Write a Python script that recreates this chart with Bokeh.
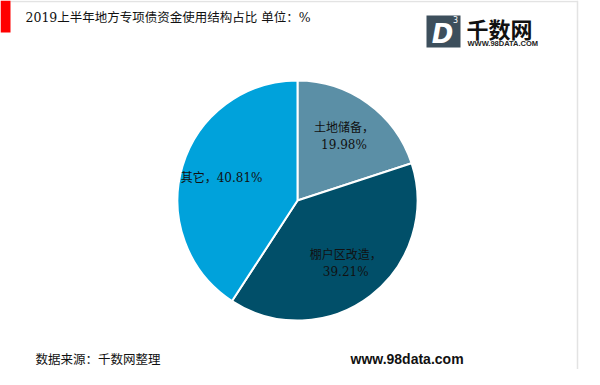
import math
import numpy as np
from bokeh.plotting import figure
from bokeh.models import Range1d, ColumnDataSource
from bokeh.core.properties import value
from bokeh.embed import file_html
from bokeh.resources import INLINE

# ---- data ----
categories = ["土地储备", "棚户区改造", "其它"]
shares = [19.98, 39.21, 40.81]
colors = ["#5b8fa6", "#014f69", "#00a2db"]
wrap_label = [True, True, False]
title_text = "2019上半年地方专项债资金使用结构占比 单位：%"
source_text = "数据来源：千数网整理"
site_text = "www.98data.com"
logo_cn = "千数网"
logo_en = "WWW.98DATA.COM"

# ---- canvas in reference pixel coordinates (top-left origin) ----
PW, PH = 584, 369
H = 385
def Y(py):
    return H - py

p = figure(width=PW, height=PH, x_range=Range1d(0, PW), y_range=Range1d(H - PH, H),
           output_backend="svg", toolbar_location=None, min_border=0)
p.axis.visible = False
p.grid.visible = False
p.outline_line_color = None
p.background_fill_color = "white"
p.border_fill_color = "white"

SERIF = value("'DejaVu Serif', 'Noto Sans CJK SC'")
SANS_CJK = value("'Noto Sans CJK SC'")

# frame decorations
p.segment(x0=[577, 10], y0=[Y(0), Y(1)], x1=[577, 577], y1=[Y(369), Y(1)],
          line_color="#e3e3e3", line_width=1.5)
p.quad(left=[0], right=[10], top=[Y(0)], bottom=[Y(32)], fill_color="#ff0000", line_color=None)

# title
p.text(x=[25], y=[Y(17)], text=[title_text], text_font=SERIF, text_font_size="12.5px",
       text_color="#111111", text_baseline="middle", text_align="left")

# pie
cx, cy, R = 297, Y(200), 120
frac = np.array(shares) / sum(shares)
cum = np.concatenate([[0.0], np.cumsum(frac)])
start = math.pi / 2 - cum[1:] * 2 * math.pi
end = math.pi / 2 - cum[:-1] * 2 * math.pi
src = ColumnDataSource(dict(start=start, end=end, color=colors))
p.wedge(x=cx, y=cy, radius=R, start_angle="start", end_angle="end", direction="anticlock",
        fill_color="color", line_color="white", line_width=2, source=src)

mid = (start + end) / 2
lr = 0.66 * R
labels = []
for c, v, w in zip(categories, shares, wrap_label):
    labels.append(f"{c}，\n{v:.2f}%" if w else f"{c}，{v:.2f}%")
p.text(x=cx + lr * np.cos(mid), y=cy + lr * np.sin(mid), text=labels, text_font=SERIF,
       text_font_size="12px", text_color="#111111", text_align="center",
       text_baseline="middle", text_line_height=1.25)

# logo
p.quad(left=[426], right=[460], top=[Y(15)], bottom=[Y(47)], fill_color="#3d4f5c", line_color=None)
p.text(x=[442], y=[Y(33)], text=["D"], text_font=value("'DejaVu Sans'"), text_font_size="26px",
       text_font_style="bold italic", text_color="white", text_align="center", text_baseline="middle")
p.text(x=[455], y=[Y(19)], text=["3"], text_font=value("'DejaVu Sans'"), text_font_size="8px",
       text_color="white", text_align="center", text_baseline="middle")
p.text(x=[466], y=[Y(27)], text=[logo_cn], text_font=SANS_CJK, text_font_size="22px",
       text_font_style="bold", text_color="#111111", text_align="left", text_baseline="middle")
p.text(x=[467], y=[Y(43)], text=[logo_en], text_font=value("'Liberation Sans'"), text_font_size="7.5px",
       text_font_style="bold", text_color="#222222", text_align="left", text_baseline="middle")

# footer
p.text(x=[35], y=[Y(358)], text=[source_text], text_font=SANS_CJK, text_font_size="12.5px",
       text_color="#111111", text_align="left", text_baseline="middle")
p.text(x=[350], y=[Y(358)], text=[site_text], text_font=value("'Liberation Sans'"), text_font_size="14px",
       text_font_style="bold", text_color="#111111", text_align="left", text_baseline="middle")

open("out.html", "w").write(file_html(p, INLINE))
